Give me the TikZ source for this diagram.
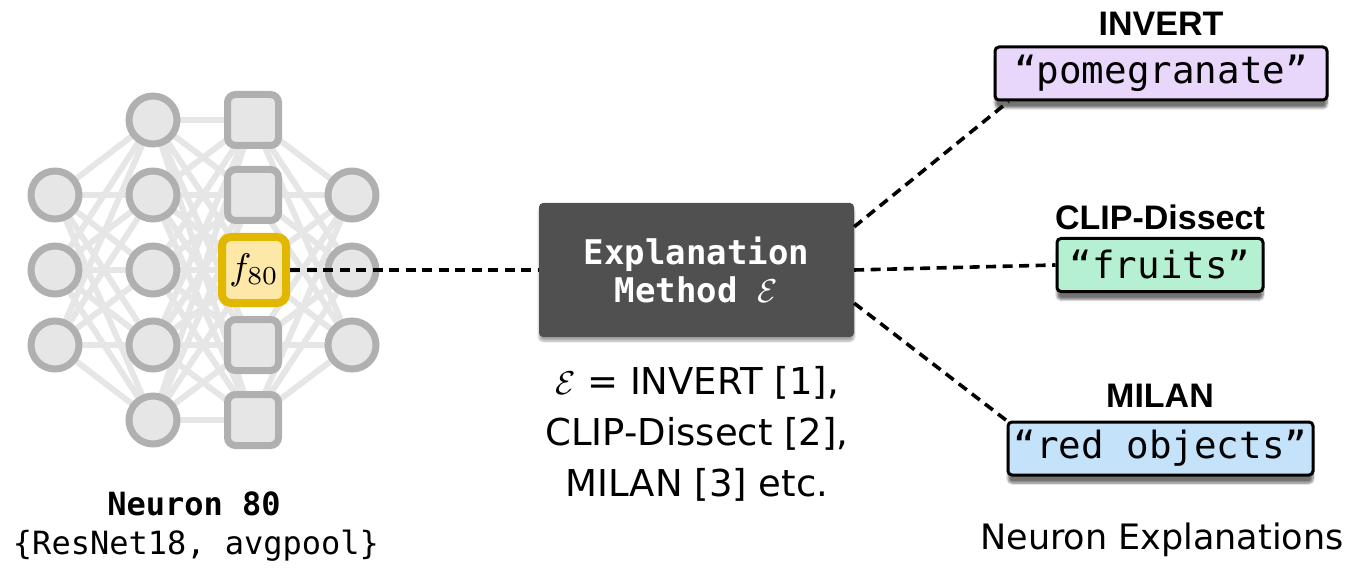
\documentclass[tikz,border=0pt]{standalone}
\usepackage{graphicx}
\usepackage{fontspec}
\setmainfont{DejaVu Sans}
\setmonofont{DejaVu Sans Mono}
\newfontfamily\labfont{Liberation Sans}
\usetikzlibrary{shadows.blur,calc}
\definecolor{netfill}{HTML}{E6E6E6}
\definecolor{netdraw}{HTML}{B0B0B0}
\definecolor{edgegray}{HTML}{E6E6E6}
\definecolor{goldd}{HTML}{E2B700}
\definecolor{goldf}{HTML}{FDE8A8}
\definecolor{boxdark}{HTML}{505050}
\definecolor{lav}{HTML}{E8D6FB}
\definecolor{mint}{HTML}{B4F0D1}
\definecolor{sky}{HTML}{C4E3FA}
\newcommand{\calE}{\scalebox{3.3}{\normalsize$\mathcal{E}$}}
\begin{document}
\begin{tikzpicture}[x=1pt,y=-1pt,
  netcirc/.style={circle,draw=netdraw,fill=netfill,line width=7pt,minimum size=48pt,inner sep=0pt},
  netsq/.style={rectangle,rounded corners=8pt,draw=netdraw,fill=netfill,line width=7pt,minimum size=51pt,inner sep=0pt},
  nnedge/.style={draw=edgegray,line width=6pt},
  conn/.style={draw=black,line width=3.6pt,dash pattern=on 10pt off 6.5pt},
  expbox/.style={rectangle,rounded corners=4pt,fill=boxdark,text=white,minimum width=315pt,minimum height=134pt,inner sep=0pt,align=center,font=\fontsize{34}{38}\selectfont\ttfamily\bfseries,blur shadow={shadow xshift=0pt,shadow yshift=-4pt,shadow blur steps=6,shadow opacity=35}},
  expl/.style={rectangle,rounded corners=4pt,draw=black,line width=3pt,minimum height=53pt,inner sep=0pt,font=\fontsize{37.5}{40}\selectfont\ttfamily,blur shadow={shadow xshift=0pt,shadow yshift=-8pt,shadow blur steps=8,shadow opacity=55}},
  methlab/.style={font=\fontsize{34}{38}\selectfont\labfont\bfseries,inner sep=0pt},
  plain/.style={inner sep=0pt,align=center}
]
\useasboundingbox (0,0) rectangle (1354,569);
% positions
\foreach \i/\y in {1/195,2/270,3/345} \coordinate (pa\i) at (55,\y);
\foreach \i/\y in {1/120,2/195,3/270,4/345,5/420} \coordinate (pb\i) at (153,\y);
\foreach \i/\y in {1/120,2/195,3/270,4/345,5/420} \coordinate (pc\i) at (253,\y);
\foreach \i/\y in {1/195,2/270,3/345} \coordinate (pd\i) at (352,\y);
% edges
\foreach \i in {1,2,3} \foreach \j in {1,...,5} \draw[nnedge] (pa\i) -- (pb\j);
\foreach \i in {1,...,5} \foreach \j in {1,...,5} \draw[nnedge] (pb\i) -- (pc\j);
\foreach \i in {1,...,5} \foreach \j in {1,2,3} \draw[nnedge] (pc\i) -- (pd\j);
% network nodes
\foreach \i in {1,2,3} \node[netcirc] (a\i) at (pa\i) {};
\foreach \i in {1,...,5} \node[netcirc] (b\i) at (pb\i) {};
\foreach \i in {1,2,4,5} \node[netsq] (c\i) at (pc\i) {};
\node[rectangle,rounded corners=9pt,draw=goldd,fill=goldf,line width=8pt,minimum width=64pt,minimum height=66pt,inner sep=0pt] (c3) at ($(pc3)+(1,0)$) {\scalebox{3.7}{\normalsize$f_{80}$}};
\foreach \i in {1,2,3} \node[netcirc] (d\i) at (pd\i) {};
% labels under network
\node[plain,font=\fontsize{32}{36}\selectfont\ttfamily\bfseries] (nlab) at (194,504) {Neuron 80};
\node[plain,font=\fontsize{32}{36}\selectfont\ttfamily] (nsub) at (196,546) {\{ResNet18, avgpool\}};
% explanation method
\node[expbox] (exp) at (696.5,270) {Explanation\\Method \calE};
\node[plain,font=\fontsize{37}{51}\selectfont] (emeth) at (697,434) {\calE{} = INVERT [1],\\CLIP-Dissect [2],\\MILAN [3] etc.};
% explanations
\node[methlab] (l1) at (1161,24) {INVERT};
\node[expl,fill=lav,minimum width=332pt] (inv) at (1161,73.5) {“pomegranate”};
\node[methlab] (l2) at (1160,217) {CLIP-Dissect};
\node[expl,fill=mint,minimum width=206pt] (clip) at (1160,265) {“fruits”};
\node[methlab] (l3) at (1160,396) {MILAN};
\node[expl,fill=sky,minimum width=305pt] (mil) at (1160.5,448.5) {“red objects”};
\node[plain,font=\fontsize{35}{40}\selectfont] (nexp) at (1162,540) {Neuron Explanations};
% connectors
\draw[conn] (c3.east) -- (exp.west);
\draw[conn] ($(exp.north east)+(0,24)$) -- ($(inv.south west)+(15,0)$);
\draw[conn] (exp.east) -- (clip.west);
\draw[conn] ($(exp.south east)+(0,-34)$) -- (mil.north west);
\end{tikzpicture}
\end{document}
